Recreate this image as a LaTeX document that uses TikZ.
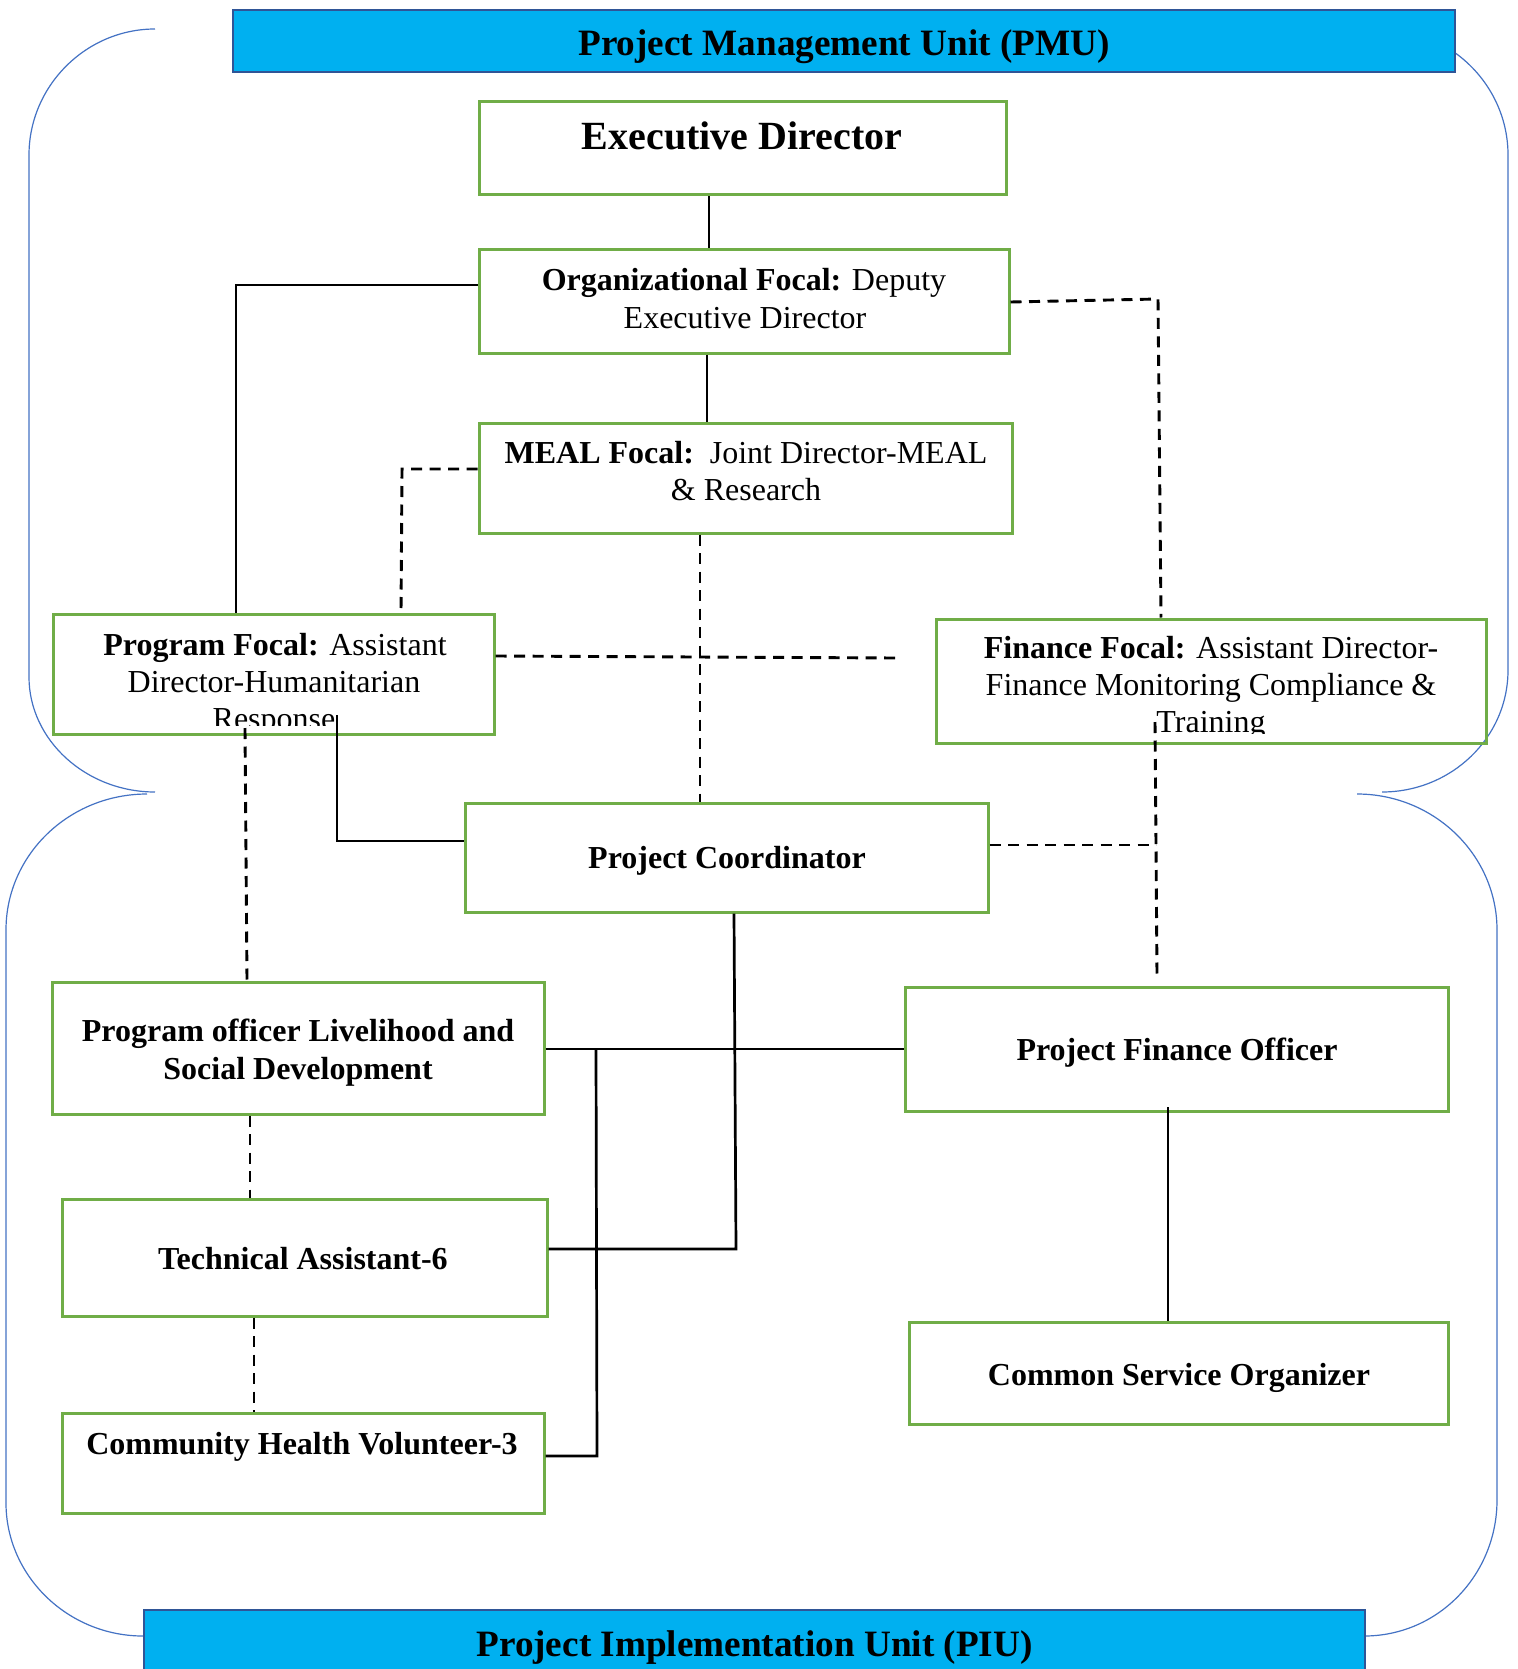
\documentclass[tikz,border=0pt]{standalone}
\usepackage{fontspec}
\setmainfont{Liberation Serif}
\usetikzlibrary{fit,calc}
\definecolor{boxgreen}{HTML}{70AD47}
\definecolor{bannerfill}{HTML}{00B0F0}
\definecolor{bannerdraw}{HTML}{2F5597}
\definecolor{bracketblue}{HTML}{4472C4}
\begin{document}
\begin{tikzpicture}[x=0.5pt,y=-0.5pt,
  box/.style={draw=boxgreen, line width=1.5pt, inner sep=0pt},
  banner/.style={draw=bannerdraw, fill=bannerfill, line width=1.2pt, inner sep=0pt},
  bracket/.style={draw=bracketblue, line width=0.6pt},
  solidc/.style={draw=black, line width=1.35pt},
  dashc/.style={draw=black, line width=1.45pt, dash pattern=on 5.5pt off 3.75pt},
  txt/.style={anchor=base, inner sep=0pt, font=\fontsize{16}{18.75}\selectfont},
  btxt/.style={txt, font=\bfseries\fontsize{16}{18.75}\selectfont},
  bantxt/.style={anchor=base, inner sep=0pt, font=\bfseries\fontsize{18.6}{22}\selectfont}]
\clip (0,0) rectangle (1518,1669);
\fill[white] (0,0) rectangle (1518,1669);

% blue brackets
\draw[bracket] (155,29) .. controls (86,29) and (29,86) .. (29,155) -- (29,677)
  .. controls (29,740) and (86,792) .. (155,792);
\draw[bracket] (147,794) .. controls (69,794) and (6,855) .. (6,930) -- (6,1503)
  .. controls (6,1576) and (68,1636) .. (143,1636);
\draw[bracket] (1381,29) .. controls (1451,29) and (1508,86) .. (1508,155) -- (1508,670)
  .. controls (1508,738) and (1451,792) .. (1382,792);
\draw[bracket] (1357,794) .. controls (1434,794) and (1497,855) .. (1497,930) -- (1497,1500)
  .. controls (1497,1574) and (1439,1636) .. (1364,1636);

% banners
\node[banner, fit={(233,10) (1455,72)}] (pmu) {};
\node[banner, fit={(144,1610) (1365,1700)}] (piu) {};
\node[bantxt] (pmut) at (844,56) {Project Management Unit (PMU)};
\node[bantxt] (piut) at (754.5,1656) {Project Implementation Unit (PIU)};

% boxes
\node[box, fit={(479,102) (1006,195)}] (ed) {};
\node[box, fit={(479,250) (1009,353)}] (org) {};
\node[box, fit={(479,423) (1012,533)}] (meal) {};
\node[box, fit={(53,614) (494,734)}] (pf) {};
\node[box, fit={(936,619) (1486,743)}] (fin) {};
\node[box, fit={(465,803) (988,912)}] (pc) {};
\node[box, fit={(52,982) (544,1114)}] (po) {};
\node[box, fit={(62,1199) (547,1316)}] (ta) {};
\node[box, fit={(62,1413) (544,1513)}] (chv) {};
\node[box, fit={(905,987) (1448,1111)}] (pfo) {};
\node[box, fit={(909,1322) (1448,1424)}] (cso) {};

% texts
\node[anchor=base, inner sep=0pt, font=\bfseries\fontsize{20}{24}\selectfont] (edt) at (742,150) {Executive Director};
\node[txt] (orgt1) at (744,290) {\textbf{Organizational Focal:} Deputy};
\node[txt] (orgt2) at (745,328) {Executive Director};
\node[txt] (mealt1) at (746,463) {\textbf{MEAL Focal:}\ \ Joint Director-MEAL};
\node[txt] (mealt2) at (746,500) {\& Research};
\node[txt] (pft1) at (275,655) {\textbf{Program Focal:} Assistant};
\node[txt] (pft2) at (274,692) {Director-Humanitarian};
\begin{scope}
  \clip (53,600) rectangle (494,725);
  \node[txt] (pft3) at (274,729) {Response};
\end{scope}
\node[txt] (fint1) at (1211,658) {\textbf{Finance Focal:} Assistant Director-};
\node[txt] (fint2) at (1211,695) {Finance Monitoring Compliance \&};
\begin{scope}
  \clip (936,600) rectangle (1486,733);
  \node[txt] (fint3) at (1211,732) {Training};
\end{scope}
\node[btxt] (pct) at (727,868) {Project Coordinator};
\node[btxt] (pot1) at (298,1041) {Program officer Livelihood and};
\node[btxt] (pot2) at (298,1079) {Social Development};
\node[btxt] (tat) at (303,1269) {Technical Assistant-6};
\node[btxt] (chvt) at (302,1454) {Community Health Volunteer-3};
\node[btxt] (pfot) at (1177,1060) {Project Finance Officer};
\node[btxt] (csot) at (1179,1385) {Common Service Organizer};

% helper coordinates (free ends / junctions)
\coordinate (pfend) at (897,658);
\coordinate (pfin) at (337,715);
\coordinate (finin) at (1155,722);
\coordinate (finjoin) at (1156,845);
\coordinate (pfoend) at (1157,976);
\coordinate (pfoin) at (1168,1107);

% solid connectors
\draw[solidc] (709,0 |- ed.south) -- (709,0 |- org.north);
\draw[solidc] (707,0 |- org.south) -- (707,0 |- meal.north);
\draw[solidc] (org.west |- 0,285) -- (236,285) -- (236,0 |- pf.north);
\draw[solidc] (pfin) -- (337,841) -- (pc.west |- 0,841);
\draw[solidc] (734,0 |- pc.south) -- (736,1249) -- (ta.east |- 0,1249);
\draw[solidc] (po.east |- 0,1049) -- (pfo.west |- 0,1049);
\draw[solidc] (596,1049) -- (597,1456) -- (chv.east |- 0,1456);
\draw[solidc] (pfoin) -- (1168,0 |- cso.north);

% dashed connectors
\draw[dashc] (org.east |- 0,302) -- (1158,299) -- (1161,0 |- fin.north);
\draw[dashc] (meal.west |- 0,469) -- (402,469) -- (401,0 |- pf.north);
\draw[dashc] (700,0 |- meal.south) -- (700,0 |- pc.north);
\draw[dashc] (pf.east |- 0,656) -- (pfend);
\draw[dashc] (245,728) -- (247,0 |- po.north);
\draw[dashc] (finin) -- (finjoin) -- (pfoend);
\draw[dashc] (pc.east |- 0,845) -- (finjoin);
\draw[dashc] (250,0 |- po.south) -- (250,0 |- ta.north);
\draw[dashc] (254,0 |- ta.south) -- (254,0 |- chv.north);
\end{tikzpicture}
\end{document}
